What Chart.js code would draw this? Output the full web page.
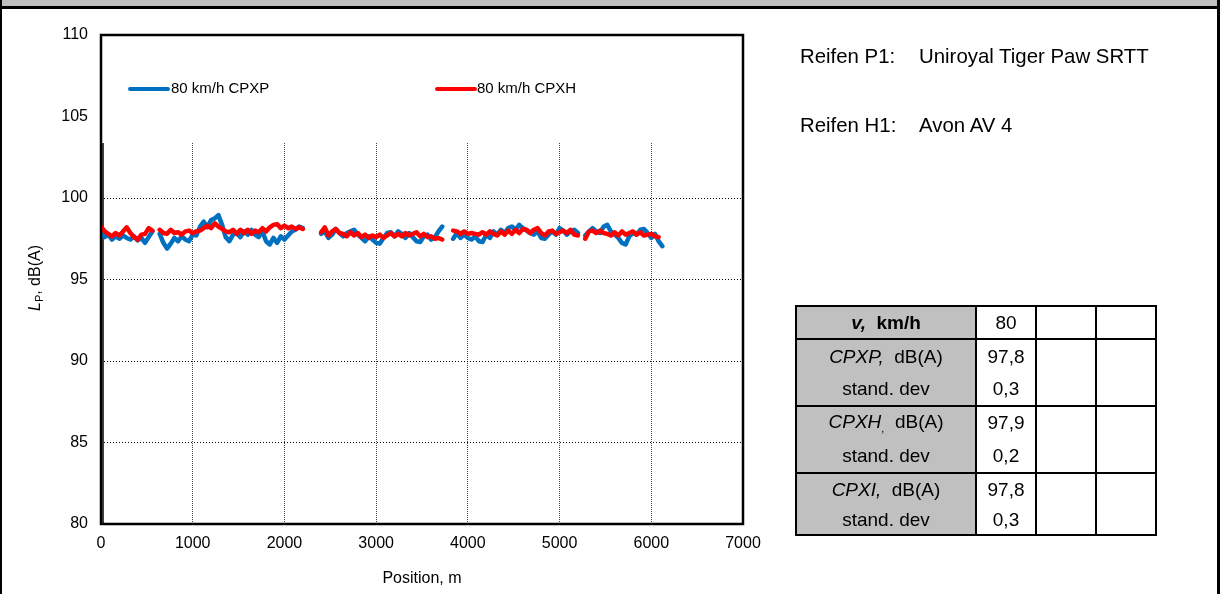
<!DOCTYPE html>
<html>
<head>
<meta charset="utf-8">
<script src="https://cdn.jsdelivr.net/npm/chart.js@4.4.1/dist/chart.umd.min.js"></script>
<style>
  html, body { margin:0; padding:0; background:#fff; }
  #wrap { position:relative; width:1220px; height:594px; overflow:hidden; font-family:"Liberation Sans", Arial, sans-serif; }
  #topbar { position:absolute; left:0; top:0; width:1220px; height:6px; background:#c0c0c0; }
  #topline { position:absolute; left:0; top:6px; width:1220px; height:3px; background:#000; }
  #lb { position:absolute; left:0; top:0; width:2px; height:594px; background:#000; }
  #rb { position:absolute; right:0; top:0; width:3px; height:594px; background:#000; }
  canvas { position:absolute; left:0; top:0; }
  .tire { position:absolute; font-size:20.4px; color:#000; white-space:pre; }
  table { position:absolute; left:795px; top:305px; border-collapse:collapse; font-size:19px; }
  td { border-left:2px solid #000; border-right:2px solid #000; padding:0; text-align:center; line-height:20px; }
  td.g { background:#c0c0c0; width:178px; }
  td.v { width:58px; }
  td.e { width:58px; }
  tr.top td { border-top:2px solid #000; }
  tr.bot td { border-bottom:2px solid #000; }
  .sub { font-size:11px; position:relative; top:4px; }
</style>
</head>
<body>
<div id="wrap">
  <div id="topbar"></div><div id="topline"></div><div id="lb"></div><div id="rb"></div>
  <canvas id="c" width="1220" height="594"></canvas>
  <div class="tire" style="left:800px; top:45px;">Reifen P1:</div>
  <div class="tire" style="left:919px; top:45px;">Uniroyal Tiger Paw SRTT</div>
  <div class="tire" style="left:800px; top:114px;">Reifen H1:</div>
  <div class="tire" style="left:919px; top:114px;">Avon AV 4</div>
  <table>
    <tr class="top bot" style="height:33px"><td class="g"><b><i>v,</i>&nbsp; km/h</b></td><td class="v">80</td><td class="e"></td><td class="e"></td></tr>
    <tr class="top" style="height:34px"><td class="g"><i>CPXP,</i>&nbsp; dB(A)</td><td class="v">97,8</td><td class="e"></td><td class="e"></td></tr>
    <tr class="bot" style="height:33px"><td class="g">stand. dev</td><td class="v">0,3</td><td class="e"></td><td class="e"></td></tr>
    <tr class="top" style="height:33px"><td class="g"><i>CPXH</i><span class="sub">,</span>&nbsp; dB(A)</td><td class="v">97,9</td><td class="e"></td><td class="e"></td></tr>
    <tr class="bot" style="height:34px"><td class="g">stand. dev</td><td class="v">0,2</td><td class="e"></td><td class="e"></td></tr>
    <tr class="top" style="height:32px"><td class="g"><i>CPXI,</i>&nbsp; dB(A)</td><td class="v">97,8</td><td class="e"></td><td class="e"></td></tr>
    <tr class="bot" style="height:30px"><td class="g">stand. dev</td><td class="v">0,3</td><td class="e"></td><td class="e"></td></tr>
  </table>
</div>
<script>
const positions = [0,40,80,120,160,200,240,280,320,360,400,440,480,520,560,600,640,680,720,760,800,840,880,920,960,1000,1040,1080,1120,1160,1200,1240,1280,1320,1360,1400,1440,1480,1520,1560,1600,1640,1680,1720,1760,1800,1840,1880,1920,1960,2000,2040,2080,2120,2160,2200,2240,2280,2320,2360,2400,2440,2480,2520,2560,2600,2640,2680,2720,2760,2800,2840,2880,2920,2960,3000,3040,3080,3120,3160,3200,3240,3280,3320,3360,3400,3440,3480,3520,3560,3600,3640,3680,3720,3760,3800,3840,3880,3920,3960,4000,4040,4080,4120,4160,4200,4240,4280,4320,4360,4400,4440,4480,4520,4560,4600,4640,4680,4720,4760,4800,4840,4880,4920,4960,5000,5040,5080,5120,5160,5200,5240,5280,5320,5360,5400,5440,5480,5520,5560,5600,5640,5680,5720,5760,5800,5840,5880,5920,5960,6000,6040,6080,6120];

const cpxp = [
  98.0,97.6,97.75,97.45,97.65,97.5,97.7,97.55,97.45,97.65,97.4,97.55,97.25,97.6,97.95,
  null,
  97.8,97.25,96.9,97.2,97.55,97.35,97.65,97.45,97.35,97.75, 97.7,98.25,98.55,98.2,98.65,98.75,98.95,98.35,97.6,97.35,
  97.75,97.85,97.6,97.95,97.75,98.05,97.75,97.6,97.95,97.35, 97.15,97.55,97.25,97.65,97.45,97.7,97.95,98.05,98.25,98.15,
  null,null,null,null,
  97.8,97.95,97.55,97.75,98.1,97.85,97.65,97.85,97.95,98.05, 97.75,97.55,97.35,97.65,97.45,97.25,97.2,97.55,97.85,97.9,
  97.65,97.95,97.8,97.55,97.85,97.6,97.35,97.3,97.65,97.75, 97.45,97.6,97.95,98.25,
  null,null,
  97.5,97.85,97.55,97.75,97.55,97.45,97.65,97.35,97.3,97.75, 97.55,97.95,97.75,98.05,97.85,98.15,98.25,98.05,98.35,98.15,
  98.0,97.85,97.75,97.95,97.55,97.5,97.75,97.95,97.75,98.15, 98.0,97.75,97.95,98.05,97.85,
  null,
  97.7,97.95,98.15,97.95,97.85,98.25,98.35,97.95,97.75,97.55, 97.25,97.15,97.65,97.85,97.75,98.05,98.1,97.85,97.55,97.8,
  97.35,97.05
];

const cpxh = [
  98.25,97.95,97.8,97.65,97.85,97.7,97.95,98.2,97.85,97.6,97.45,97.75,97.8,98.15,98.0,
  null,
  98.05,97.85,97.8,98.05,97.85,97.9,97.75,97.95,98.0,97.85, 97.95,98.0,98.15,98.3,98.15,98.45,98.25,98.1,97.95,97.9,
  98.05,97.8,98.05,97.85,98.05,97.8,98.0,97.9,98.15,97.95, 98.2,98.35,98.4,98.15,98.3,98.15,98.25,98.1,98.2,98.1,
  null,null,null,null,
  97.9,98.2,97.7,97.95,98.1,97.85,97.8,97.65,97.9,97.7, 97.85,97.6,97.75,97.55,97.7,97.6,97.75,97.55,97.7,97.85,
  97.65,97.8,97.65,97.85,97.7,97.8,97.9,97.65,97.8,97.6, 97.65,97.5,97.55,97.45,
  null,null,
  98.0,97.95,97.8,97.95,97.8,97.85,97.8,97.75,97.9,97.75, 97.95,97.8,97.7,97.95,97.75,98.0,97.8,98.05,97.85,98.1,
  98.05,97.85,98.05,98.15,97.85,97.7,97.95,98.0,97.8,97.9, 98.0,97.85,98.05,97.75,97.7,
  null,
  97.5,97.95,98.0,97.85,98.0,97.85,97.8,97.7,97.9,97.7, 97.95,97.75,97.85,97.95,97.75,97.9,97.7,97.75,97.8,97.65,
  97.6,null
];

const seriesNames = ['80 km/h CPXP', '80 km/h CPXH'];
const seriesColors = ['#0070C0', '#FF0000'];
const xTicks = [0,1000,2000,3000,4000,5000,6000,7000];
const yTicks = [80,85,90,95,100,105,110];

const frame = {
  id: 'frame',
  beforeDatasetsDraw(chart) {
    const ctx = chart.ctx, a = chart.chartArea;
    ctx.save();
    const boxBottom = a.top + 108;
    ctx.fillStyle = '#fff';
    ctx.fillRect(a.left, a.top, a.right - a.left, boxBottom - a.top);
    ctx.strokeStyle = '#000';
    ctx.lineWidth = 1.5;
    ctx.beginPath(); ctx.moveTo(a.left + 2, boxBottom); ctx.lineTo(a.left + 2, a.bottom); ctx.stroke();
    ctx.lineCap = 'round';
    ctx.lineWidth = 4;
    ctx.font = '15px "Liberation Sans", Arial, sans-serif';
    ctx.textBaseline = 'middle';
    const items = [{x0:130, x1:168, tx:171}, {x0:437, x1:475, tx:477}];
    items.forEach((it, i) => {
      ctx.strokeStyle = seriesColors[i];
      ctx.beginPath(); ctx.moveTo(it.x0, 89); ctx.lineTo(it.x1, 89); ctx.stroke();
      ctx.fillStyle = '#000';
      ctx.fillText(seriesNames[i], it.tx, 89);
    });
    ctx.restore();
  },
  afterDatasetsDraw(chart) {
    const ctx = chart.ctx, a = chart.chartArea;
    ctx.save();
    ctx.strokeStyle = '#000';
    ctx.lineWidth = 2.5;
    ctx.strokeRect(a.left, a.top, a.right - a.left, a.bottom - a.top);
    ctx.translate(35, 278);
    ctx.rotate(-Math.PI / 2);
    ctx.fillStyle = '#000';
    ctx.textBaseline = 'alphabetic';
    const f1 = 'italic 16px "Liberation Sans", Arial, sans-serif';
    const f2 = '11px "Liberation Sans", Arial, sans-serif';
    const f3 = '16px "Liberation Sans", Arial, sans-serif';
    ctx.font = f1; const w1 = ctx.measureText('L').width;
    ctx.font = f2; const w2 = ctx.measureText('P').width;
    ctx.font = f3; const w3 = ctx.measureText(', dB(A)').width;
    let x = -(w1 + w2 + w3) / 2;
    ctx.font = f1; ctx.fillText('L', x, 5); x += w1;
    ctx.font = f2; ctx.fillText('P', x, 8); x += w2;
    ctx.font = f3; ctx.fillText(', dB(A)', x, 5);
    ctx.restore();
  }
};

new Chart(document.getElementById('c'), {
  type: 'line',
  data: {
    datasets: [
      { label: seriesNames[0], data: positions.map((p, i) => ({x: p, y: cpxp[i]})),
        borderColor: seriesColors[0], backgroundColor: seriesColors[0], borderWidth: 4.5,
        pointRadius: 0, tension: 0, spanGaps: false, order: 1, borderJoinStyle: 'round', borderCapStyle: 'round' },
      { label: seriesNames[1], data: positions.map((p, i) => ({x: p, y: cpxh[i]})),
        borderColor: seriesColors[1], backgroundColor: seriesColors[1], borderWidth: 4.5,
        pointRadius: 0, tension: 0, spanGaps: false, order: 0, borderJoinStyle: 'round', borderCapStyle: 'round' }
    ]
  },
  options: {
    responsive: false,
    animation: false,
    devicePixelRatio: 1,
    layout: { padding: { left: 0, top: 35, right: 477, bottom: 0 } },
    plugins: { legend: { display: false }, tooltip: { enabled: false } },
    scales: {
      x: {
        type: 'linear', min: 0, max: 7000,
        afterBuildTicks: s => { s.ticks = xTicks.map(v => ({value: v})); },
        afterFit: s => { s.height = 70; },
        grid: { color: '#444', lineWidth: 1, drawTicks: false },
        border: { display: false, dash: [1, 1] },
        ticks: { color: '#000', font: { family: '"Liberation Sans", Arial, sans-serif', size: 16 }, padding: 10, maxRotation: 0,
                 callback: v => String(v) },
        title: { display: true, text: 'Position, m', color: '#000', font: { family: '"Liberation Sans", Arial, sans-serif', size: 16 }, padding: { top: 0, bottom: 6 } }
      },
      y: {
        type: 'linear', min: 80, max: 110,
        afterBuildTicks: s => { s.ticks = yTicks.map(v => ({value: v})); },
        afterFit: s => { s.width = 101; },
        grid: { color: '#000', lineWidth: 1, drawTicks: false },
        border: { display: false, dash: [1, 2] },
        ticks: { color: '#000', font: { family: '"Liberation Sans", Arial, sans-serif', size: 16 }, padding: 13,
                 callback: v => String(v) }
      }
    }
  },
  plugins: [frame]
});
</script>
</body>
</html>
